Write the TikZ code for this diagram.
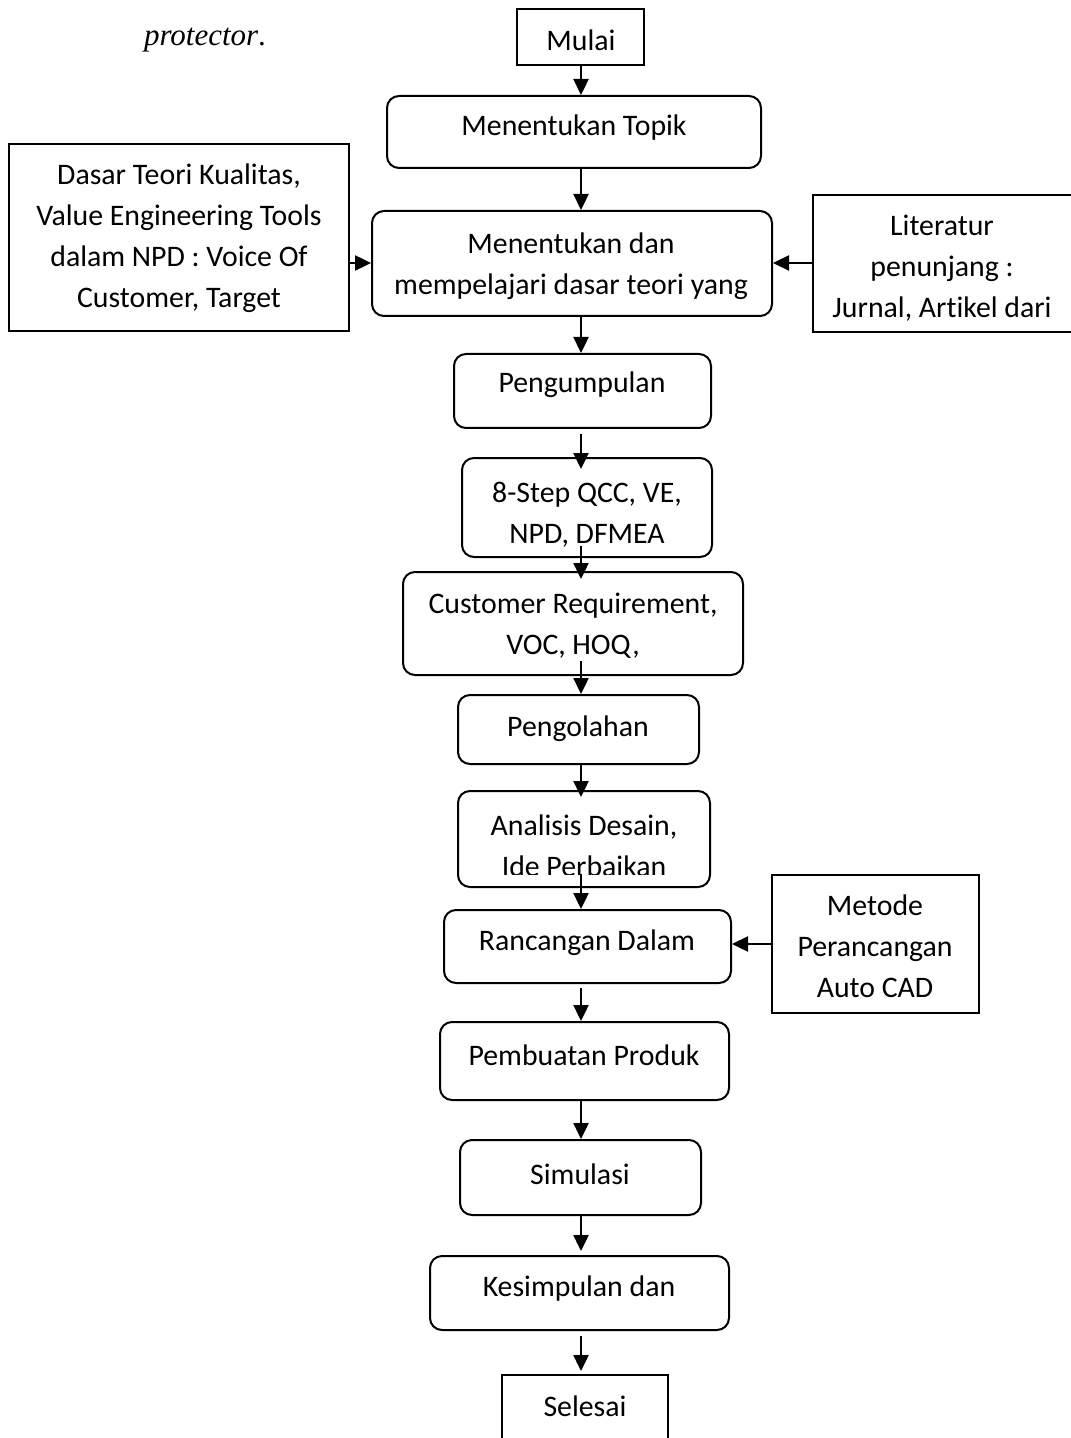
\documentclass[tikz,border=0pt]{standalone}
\usepackage{fontspec}
\setmainfont[Ligatures=NoCommon]{Carlito}
\newfontfamily\tnrfont{Liberation Serif}
\usetikzlibrary{arrows.meta,fit,calc}
\begin{document}
\begin{tikzpicture}[x=0.5pt,y=-0.5pt,
  rbox/.style={draw,line width=1pt,rounded corners=6pt,inner sep=0pt},
  sbox/.style={draw,line width=1pt,inner sep=0pt},
  txt/.style={inner sep=0pt,align=center,font=\fontsize{14.9}{20.5}\selectfont},
  arr/.style={line width=1.2pt,-{Triangle[length=8pt,width=7.5pt]}}]
\useasboundingbox (0,0) rectangle (1070,1438);
\coordinate (col) at (581,0);

% header text
\node[inner sep=0pt,font=\tnrfont\fontsize{15.5}{17}\selectfont] (prot) at (205,40) {\textit{protector}.};

% boxes
\node[sbox,fit={(517,9) (644,65)}] (mulai) {};
\node[rbox,fit={(387,96) (761,168)}] (topik) {};
\node[rbox,fit={(372,211) (772,316)}] (dasar) {};
\node[sbox,fit={(9,144) (349,331)}] (kiri) {};
\node[sbox,fit={(813,195) (1090,332)}] (kanan) {};
\node[rbox,fit={(454,354) (711,428)}] (peng) {};
\node[rbox,fit={(462,458) (712,557)}] (step) {};
\node[rbox,fit={(403,572) (743,675)}] (cust) {};
\node[rbox,fit={(458,695) (699,764)}] (olah) {};
\node[rbox,fit={(458,791) (710,887)}] (anal) {};
\node[rbox,fit={(444,910) (731,983)}] (ranc) {};
\node[sbox,fit={(772,875) (979,1013)}] (metode) {};
\node[rbox,fit={(440,1022) (729,1100)}] (buat) {};
\node[rbox,fit={(460,1140) (701,1215)}] (sim) {};
\node[rbox,fit={(430,1256) (729,1330)}] (kes) {};
\node[sbox,fit={(502,1375) (668,1460)}] (sel) {};

% texts
\node[txt] (tmulai) at (581,40) {Mulai};
\node[txt] (ttopik) at (574,128) {Menentukan Topik};
\node[txt] (tdasar) at (571,266) {Menentukan dan\\mempelajari dasar teori yang};
\node[txt] (tkiri) at (179,238) {Dasar Teori Kualitas,\\Value Engineering Tools\\dalam NPD : Voice Of\\Customer, Target};
\node[txt] (tkanan) at (942,268) {Literatur\\penunjang :\\Jurnal, Art\kern0pt ikel dari};
\node[txt] (tpeng) at (582,385) {Pengumpulan};
\begin{scope}
\clip (462,458) rectangle (712,546);
\node[txt] (tstep) at (587,515) {8-Step QCC, VE,\\NPD, DFMEA};
\end{scope}
\node[txt] (tcust) at (573,626) {Customer Requirement,\\VOC, HOQ,};
\node[txt] (tolah) at (578,729) {Pengolahan};
\begin{scope}
\clip (458,791) rectangle (710,874);
\node[txt] (tanal) at (584,846) {Analisis Desain,\\Ide Perbaikan};
\end{scope}
\node[txt] (tranc) at (587,943) {Rancangan Dalam};
\node[txt] (tmetode) at (875,946) {Metode\\Perancangan\\Auto CAD};
\node[txt] (tbuat) at (584,1055) {Pembuatan Produk};
\node[txt] (tsim) at (580,1174) {Simulasi};
\node[txt] (tkes) at (579,1289) {Kesimpulan dan};
\node[txt] (tsel) at (585,1406) {Selesai};

% vertical arrows
\draw[arr] (mulai.south -| col) -- (topik.north -| col);
\draw[arr] (topik.south -| col) -- (dasar.north -| col);
\draw[arr] (dasar.south -| col) -- (peng.north -| col);
\draw[arr] ($(peng.south -| col)+(0,5)$) -- ($(step.north -| col)+(0,12)$);
\draw[arr] ($(step.south -| col)+(0,-12)$) -- ($(cust.north -| col)+(0,8)$);
\draw[arr] ($(cust.south -| col)+(0,-15)$) -- (olah.north -| col);
\draw[arr] (olah.south -| col) -- ($(anal.north -| col)+(0,7)$);
\draw[arr] ($(anal.south -| col)+(0,-14)$) -- (ranc.north -| col);
\draw[arr] ($(ranc.south -| col)+(0,4)$) -- (buat.north -| col);
\draw[arr] (buat.south -| col) -- (sim.north -| col);
\draw[arr] (sim.south -| col) -- ($(kes.north -| col)+(0,-4)$);
\draw[arr] ($(kes.south -| col)+(0,5)$) -- ($(sel.north -| col)+(0,-3)$);

% horizontal arrows
\coordinate (rowA) at (0,263);
\coordinate (rowB) at (0,944);
\draw[arr] (kiri.east |- rowA) -- (dasar.west |- rowA);
\draw[arr] (kanan.west |- rowA) -- (dasar.east |- rowA);
\draw[arr] (metode.west |- rowB) -- (ranc.east |- rowB);
\end{tikzpicture}
\end{document}
